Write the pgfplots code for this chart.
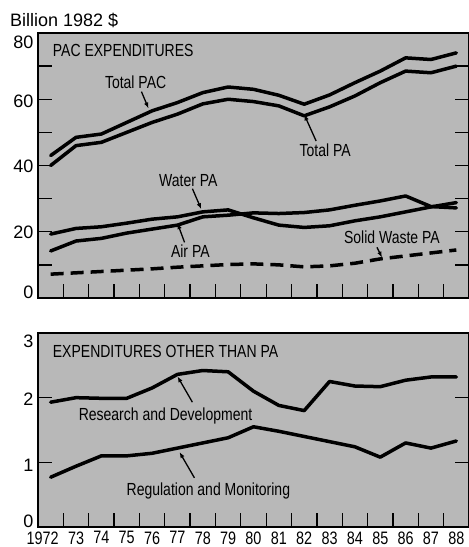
\documentclass[border=0pt]{standalone}
\usepackage{fontspec}
\setmainfont{Liberation Sans}
\newfontfamily\cond{Liberation Sans}[FakeStretch=0.8]
\usepackage{pgfplots}
\pgfplotsset{compat=1.18}
\usetikzlibrary{arrows.meta}
\tikzset{
  dline/.style={black, line width=3.5pt, line join=round, line cap=round},
  lab/.style={font=\cond\fontsize{17.5}{18}\selectfont, inner sep=0pt},
  arr/.style={-{Latex[length=6pt,width=4.5pt]}, line width=1.3pt},
}
\newcommand{\sh}[2]{\raisebox{#1}[0pt][0pt]{#2}}
\pgfplotsset{
  panel/.style={
    scale only axis, width=431pt, anchor=south west,
    xmin=1971.5, xmax=1988.5,
    axis background/.style={fill=black!28},
    axis line style={line width=1.5pt},
    tick align=inside, major tick length=14pt, minor tick length=14pt,
    tick style={line width=1.3pt, black},
    xtick pos=left,
    xtick={1972.5,1973.5,...,1987.5}, xticklabels={},
    yticklabel style={font=\fontsize{18}{18}\selectfont, anchor=east, xshift=-1pt},
    clip=false,
  },
}
\begin{document}
\begin{tikzpicture}
\useasboundingbox (0,0) rectangle (469pt,547pt);
\node[anchor=base west, font=\fontsize{18}{18}\selectfont, inner sep=0pt] at (10pt,520pt) {Billion 1982 \$};
% ---------- top panel ----------
\begin{axis}[panel, at={(38pt,249pt)}, height=265pt,
  ymin=0, ymax=80,
  ytick={0,20,40,60,80}, minor ytick={10,30,50,70},
  yticklabels={\sh{-0.5pt}{0},\sh{-6.5pt}{20},\sh{-6.5pt}{40},\sh{-8pt}{60},\sh{-15pt}{80}},
]
\addplot[dline] coordinates {(1972,43) (1973,48.5) (1974,49.5) (1975,53) (1976,56.5) (1977,59) (1978,62) (1979,63.7) (1980,63) (1981,61.2) (1982,58.5) (1983,61.3) (1984,65) (1985,68.5) (1986,72.5) (1987,72) (1988,74)};
\addplot[dline] coordinates {(1972,40) (1973,46) (1974,47) (1975,50) (1976,53) (1977,55.5) (1978,58.6) (1979,60) (1980,59.3) (1981,58) (1982,55) (1983,57.7) (1984,61) (1985,65) (1986,68.5) (1987,68) (1988,70)};
\addplot[dline] coordinates {(1972,19.3) (1973,21) (1974,21.5) (1975,22.6) (1976,23.8) (1977,24.5) (1978,26) (1979,26.6) (1980,24.2) (1981,22) (1982,21.3) (1983,21.8) (1984,23.3) (1985,24.5) (1986,26) (1987,27.5) (1988,28.8)};
\addplot[dline] coordinates {(1972,14.2) (1973,17.2) (1974,18) (1975,19.6) (1976,20.8) (1977,22) (1978,24.5) (1979,25) (1980,25.7) (1981,25.5) (1982,25.8) (1983,26.6) (1984,28) (1985,29.3) (1986,30.8) (1987,27.6) (1988,27.2)};
\addplot[dline, line cap=butt, dash pattern=on 13pt off 7pt] coordinates {(1972,7.2) (1973,7.6) (1974,8) (1975,8.4) (1976,8.8) (1977,9.3) (1978,9.7) (1979,10.1) (1980,10.3) (1981,10) (1982,9.4) (1983,9.7) (1984,10.5) (1985,11.8) (1986,12.7) (1987,13.6) (1988,14.5)};
\node[lab, anchor=west] at (axis cs:1972.08,74.6) {PAC EXPENDITURES};
\node[lab] at (axis cs:1975.35,65.2) {Total PAC};
\draw[arr] (axis cs:1975.58,62.3) -- (axis cs:1975.86,57.2);
\node[lab] at (axis cs:1982.83,44.7) {Total PA};
\draw[arr] (axis cs:1982.47,47.4) -- (axis cs:1982.0,55.4);
\node[lab] at (axis cs:1977.43,35.6) {Water PA};
\draw[arr] (axis cs:1977.59,33.0) -- (axis cs:1977.94,26.8);
\node[lab] at (axis cs:1977.51,14.2) {Air PA};
\draw[arr] (axis cs:1977.28,16.8) -- (axis cs:1977.0,22.6);
\node[lab] at (axis cs:1985.46,18.4) {Solid Waste PA};
\draw[arr] (axis cs:1984.87,15.3) -- (axis cs:1985.07,12.2);
\end{axis}
% ---------- bottom panel ----------
\begin{axis}[panel, at={(38pt,20pt)}, height=194pt,
  ymin=0, ymax=3,
  ytick={0,1,2,3},
  yticklabels={\sh{-0.5pt}{0},\sh{-9pt}{1},\sh{-8pt}{2},\sh{-14.5pt}{3}},
  extra x ticks={1972,1973,...,1988},
  extra x tick labels={\llap{19}72,73,74,75,76,77,78,79,80,81,82,83,84,85,86,87,88},
  extra x tick style={major tick length=0pt},
  xticklabel style={font=\cond\fontsize{18}{18}\selectfont, yshift=-1pt},
]
\addplot[dline] coordinates {(1972,1.93) (1973,2.0) (1974,1.99) (1975,1.99) (1976,2.15) (1977,2.36) (1978,2.42) (1979,2.4) (1980,2.1) (1981,1.88) (1982,1.8) (1983,2.25) (1984,2.18) (1985,2.17) (1986,2.27) (1987,2.32) (1988,2.32)};
\addplot[dline] coordinates {(1972,0.77) (1973,0.94) (1974,1.1) (1975,1.1) (1976,1.14) (1977,1.22) (1978,1.3) (1979,1.38) (1980,1.55) (1981,1.48) (1982,1.4) (1983,1.32) (1984,1.24) (1985,1.08) (1986,1.3) (1987,1.22) (1988,1.33)};
\node[lab, anchor=west] at (axis cs:1972.08,2.71) {EXPENDITURES OTHER THAN PA};
\node[lab] at (axis cs:1976.53,1.72) {Research and Development};
\draw[arr] (axis cs:1977.59,1.93) -- (axis cs:1977.0,2.33);
\node[lab] at (axis cs:1978.22,0.56) {Regulation and Monitoring};
\draw[arr] (axis cs:1977.67,0.76) -- (axis cs:1977.08,1.16);
\end{axis}
\end{tikzpicture}
\end{document}
